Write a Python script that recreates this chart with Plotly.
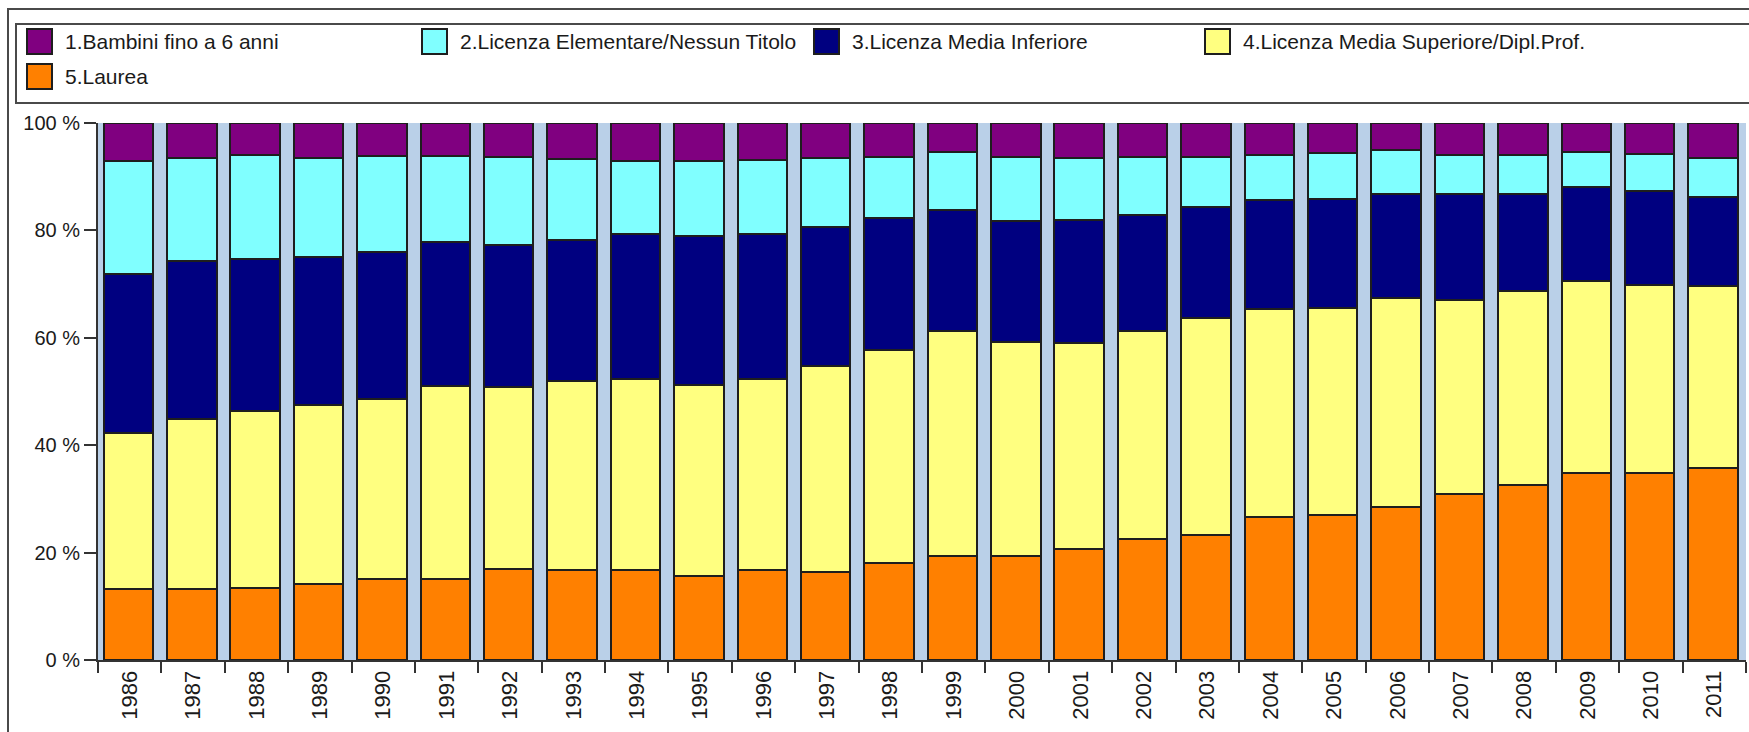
import plotly.graph_objects as go

years = [str(y) for y in range(1986, 2012)]

laurea = [13.2, 13.2, 13.5, 14.2, 15.1, 15.0, 17.0, 16.8, 16.8, 15.6, 16.8, 16.3, 18.0,
          19.4, 19.4, 20.6, 22.5, 23.2, 26.7, 27.0, 28.4, 31.0, 32.5, 34.8, 34.8, 35.8]
media_superiore = [29.1, 31.6, 32.9, 33.3, 33.5, 36.0, 33.9, 35.2, 35.6, 35.6, 35.6, 38.5, 39.7,
                   41.9, 39.8, 38.5, 38.8, 40.4, 38.6, 38.5, 39.0, 36.0, 36.3, 35.8, 35.1, 33.8]
media_inferiore = [29.5, 29.5, 28.2, 27.6, 27.3, 26.8, 26.3, 26.3, 26.9, 27.8, 27.0, 25.9, 24.7,
                   22.5, 22.5, 22.9, 21.5, 20.8, 20.4, 20.3, 19.4, 19.8, 18.0, 17.4, 17.4, 16.6]
elementare = [21.1, 19.2, 19.5, 18.4, 17.9, 16.1, 16.4, 15.0, 13.6, 13.9, 13.7, 12.8, 11.3,
              10.8, 12.0, 11.5, 10.9, 9.3, 8.4, 8.6, 8.1, 7.3, 7.3, 6.6, 6.9, 7.3]
bambini = [7.1, 6.5, 5.9, 6.5, 6.2, 6.1, 6.4, 6.7, 7.1, 7.1, 6.9, 6.5, 6.3,
           5.4, 6.3, 6.5, 6.3, 6.3, 5.9, 5.6, 5.1, 5.9, 5.9, 5.4, 5.8, 6.5]

y_tickvals = [0, 20, 40, 60, 80, 100]
y_ticktext = ["0 %", "20 %", "40 %", "60 %", "80 %", "100 %"]

names = ["1.Bambini fino a 6 anni", "2.Licenza Elementare/Nessun Titolo",
         "3.Licenza Media Inferiore", "4.Licenza Media Superiore/Dipl.Prof.", "5.Laurea"]
colors = ["#800080", "#80FFFF", "#000080", "#FFFF80", "#FF8000"]

# stacking order: bottom to top
stack = [(names[4], laurea, colors[4]),
         (names[3], media_superiore, colors[3]),
         (names[2], media_inferiore, colors[2]),
         (names[1], elementare, colors[1]),
         (names[0], bambini, colors[0])]

FONT = "Liberation Sans, Arial, sans-serif"
W_FIG, H_FIG = 1749, 732
L, R, T, B = 98, 3, 123, 72
PW, PH = W_FIG - L - R, H_FIG - T - B

fig = go.Figure()
for name, vals, col in stack:
    fig.add_trace(go.Bar(
        x=years, y=vals, name=name, width=0.78, offset=-0.41,
        marker=dict(color=col, line=dict(color="#1e1e1e", width=2)),
        showlegend=False,
    ))


def px_x(p):
    return (p - L) / PW


def px_y(p):
    return 1 - (p - T) / PH


shapes = []
# outer frame
shapes.append(dict(type="rect", xref="paper", yref="paper",
                   x0=px_x(8), x1=px_x(1800), y0=px_y(9), y1=px_y(800),
                   line=dict(color="#4a4a4a", width=2), fillcolor="rgba(0,0,0,0)", layer="below"))
# legend box
shapes.append(dict(type="rect", xref="paper", yref="paper",
                   x0=px_x(16), x1=px_x(1800), y0=px_y(24), y1=px_y(103),
                   line=dict(color="#4a4a4a", width=2), fillcolor="white", layer="below"))

annotations = []
legend_pos = [(27, 29), (422, 29), (814, 29), (1205, 29), (27, 64)]
for (sx, sy), name, col in zip(legend_pos, names, colors):
    shapes.append(dict(type="rect", xref="paper", yref="paper",
                       x0=px_x(sx), x1=px_x(sx + 25), y0=px_y(sy), y1=px_y(sy + 25),
                       line=dict(color="#1e1e1e", width=2), fillcolor=col))
    annotations.append(dict(xref="paper", yref="paper", x=px_x(sx + 36), y=px_y(sy + 12.5),
                            xanchor="left", yanchor="middle", showarrow=False, text=name,
                            font=dict(family=FONT, size=21, color="#1a1a1a")))

fig.update_layout(
    width=W_FIG, height=H_FIG,
    margin=dict(l=L, r=R, t=T, b=B, pad=0),
    barmode="stack",
    paper_bgcolor="white",
    plot_bgcolor="#BAD0E8",
    font=dict(family=FONT, size=20, color="#1a1a1a"),
    shapes=shapes,
    annotations=annotations,
    showlegend=False,
    xaxis=dict(type="category", tickangle=-90, ticks="outside", tickson="boundaries",
               ticklen=11, tickwidth=2, tickcolor="#333333",
               showline=True, linecolor="#333333", linewidth=2,
               showgrid=False, zeroline=False, tickfont=dict(size=22)),
    yaxis=dict(range=[0, 100], tickmode="array", tickvals=y_tickvals, ticktext=y_ticktext,
               ticks="outside", ticklen=12, tickwidth=2, tickcolor="#333333",
               showline=True, linecolor="#333333", linewidth=2,
               showgrid=False, zeroline=False, tickfont=dict(size=20)),
)

fig.write_html("out.html", config={"displayModeBar": False},
               post_script="document.body.style.margin='0';document.body.style.overflow='hidden';")
